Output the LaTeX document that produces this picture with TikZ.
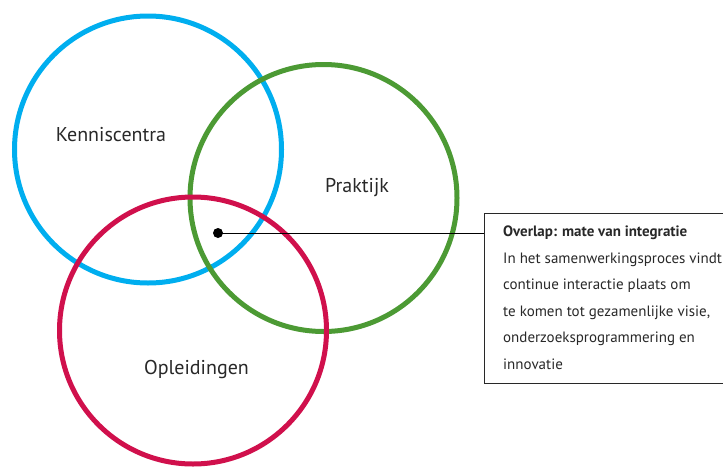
\documentclass[tikz,border=0pt]{standalone}
\usepackage{fontspec}
\setmainfont{PT Sans}
\definecolor{cblue}{RGB}{0,174,239}
\definecolor{cgreen}{RGB}{76,154,52}
\definecolor{cred}{RGB}{208,16,76}
\definecolor{ctext}{RGB}{40,40,40}
\begin{document}
\begin{tikzpicture}[x=1pt,y=-1pt,
  ring/.style={line width=5pt},
  lbl/.style={font=\fontsize{20}{24}\selectfont, text=ctext, inner sep=0pt},
  boxline/.style={draw=ctext, line width=1pt}]
\useasboundingbox (0,0) rectangle (723,466);
\draw[ring, cblue] (148,149.5) circle (133.5);
\draw[ring, cgreen] (323.5,198) circle (133.5);
\draw[ring, cred] (193,330.5) circle (133.5);
\node[lbl] (kc) at (111,135) {Kenniscentra};
\node[lbl] (pr) at (357,188) {Praktijk};
\node[lbl] (op) at (196.5,369) {Opleidingen};
\coordinate (b1) at (723,213);
\coordinate (b2) at (484,213);
\coordinate (b3) at (484,383);
\coordinate (b4) at (723,383);
\draw[boxline] (b1) -- (b2) -- (b3) -- (b4);
\node[circle, fill=black, minimum size=10pt, inner sep=0pt] (dot) at (218,233) {};
\coordinate (conn) at (484,233);
\draw[line width=1pt, black] (dot.center) -- (conn);
\node[anchor=north west, inner sep=0pt, align=left, text=ctext,
  font=\fontsize{15}{26.5}\selectfont] (txt) at (503,226)
  {\textbf{Overlap: mate van integratie}\\
   In het samenwerkingsproces vindt\\
   continue interactie plaats om\\
   te komen tot gezamenlijke visie,\\
   onderzoeksprogrammering en\\
   innovatie};
\end{tikzpicture}
\end{document}
